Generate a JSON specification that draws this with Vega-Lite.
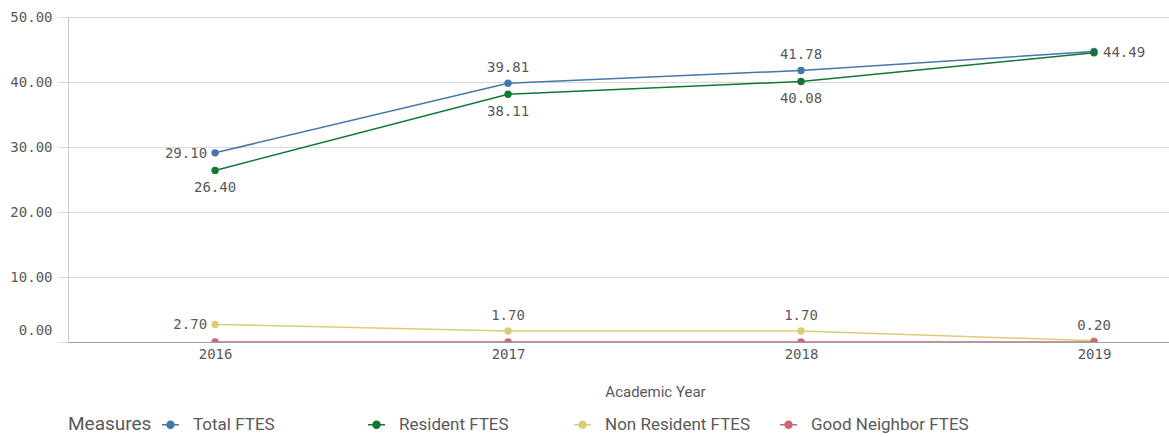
{
  "$schema": "https://vega.github.io/schema/vega-lite/v6.json",
  "width": 1101,
  "height": 325,
  "autosize": "none",
  "padding": {"left": 68, "top": 17, "right": 0, "bottom": 95},
  "background": "white",
  "config": {
    "view": {"stroke": null},
    "font": "Roboto"
  },
  "data": {
    "values": [
      {"year": 2016, "measure": "Total FTES", "value": 29.10},
      {"year": 2017, "measure": "Total FTES", "value": 39.81},
      {"year": 2018, "measure": "Total FTES", "value": 41.78},
      {"year": 2019, "measure": "Total FTES", "value": 44.69},
      {"year": 2016, "measure": "Resident FTES", "value": 26.40},
      {"year": 2017, "measure": "Resident FTES", "value": 38.11},
      {"year": 2018, "measure": "Resident FTES", "value": 40.08},
      {"year": 2019, "measure": "Resident FTES", "value": 44.49},
      {"year": 2016, "measure": "Non Resident FTES", "value": 2.70},
      {"year": 2017, "measure": "Non Resident FTES", "value": 1.70},
      {"year": 2018, "measure": "Non Resident FTES", "value": 1.70},
      {"year": 2019, "measure": "Non Resident FTES", "value": 0.20},
      {"year": 2016, "measure": "Good Neighbor FTES", "value": 0},
      {"year": 2017, "measure": "Good Neighbor FTES", "value": 0},
      {"year": 2018, "measure": "Good Neighbor FTES", "value": 0},
      {"year": 2019, "measure": "Good Neighbor FTES", "value": 0}
    ]
  },
  "encoding": {
    "x": {
      "field": "year",
      "type": "quantitative",
      "scale": {"domain": [2015.498, 2019.256], "nice": false, "zero": false},
      "axis": {
        "title": "Academic Year",
        "values": [2016, 2017, 2018, 2019],
        "format": "d",
        "grid": false,
        "ticks": false,
        "domainColor": "#9e9e9e",
        "domainWidth": 1,
        "labelFont": "DejaVu Sans Mono",
        "labelFontSize": 14,
        "labelColor": "#595959",
        "labelPadding": 5,
        "titleFont": "Roboto",
        "titleFontSize": 15,
        "titleFontWeight": "normal",
        "titleColor": "#595959",
        "titleX": 587,
        "titleY": 49,
        "titleBaseline": "middle",
        "titleAnchor": "middle"
      }
    },
    "y": {
      "field": "value",
      "type": "quantitative",
      "scale": {"domain": [0, 50], "nice": false},
      "axis": {
        "title": null,
        "values": [0, 10, 20, 30, 40, 50],
        "format": ".2f",
        "grid": true,
        "gridColor": "#d9d9d9",
        "gridWidth": 1,
        "ticks": true,
        "tickSize": 10,
        "tickColor": "#d9d9d9",
        "domainColor": "#cccccc",
        "labelFont": "DejaVu Sans Mono",
        "labelFontSize": 14,
        "labelColor": "#595959",
        "labelPadding": 6,
        "labelBaseline": {"expr": "datum.value === 0 ? 'bottom' : 'middle'"},
        "labelOffset": {"expr": "datum.value === 0 ? -5 : 0"}
      }
    },
    "color": {
      "field": "measure",
      "type": "nominal",
      "sort": ["Total FTES", "Resident FTES", "Non Resident FTES", "Good Neighbor FTES"],
      "scale": {
        "domain": ["Total FTES", "Resident FTES", "Non Resident FTES", "Good Neighbor FTES"],
        "range": ["#4477aa", "#117733", "#ddcc77", "#cc6677"]
      },
      "legend": {
        "title": "Measures",
        "orient": "none",
        "legendX": 0,
        "legendY": 399,
        "direction": "horizontal",
        "columns": 4,
        "gridAlign": "all",
        "columnPadding": 17,
        "titleOrient": "left",
        "titleFont": "Roboto",
        "titleFontSize": 19,
        "titleFontWeight": "normal",
        "titleColor": "#595959",
        "titlePadding": 10,
        "labelFont": "Roboto",
        "labelFontSize": 17,
        "labelColor": "#595959",
        "labelOffset": 14,
        "labelLimit": 300,
        "symbolType": "M-1,-0.1L1,-0.1L1,0.1L-1,0.1Z M0,-0.5A0.5,0.5,0,1,1,0,0.5A0.5,0.5,0,1,1,0,-0.5Z",
        "symbolSize": 289,
        "symbolStrokeWidth": 0,
        "symbolOpacity": 1
      }
    }
  },
  "layer": [
    {
      "mark": {"type": "line", "strokeWidth": 1.5, "clip": true}
    },
    {
      "mark": {"type": "point", "filled": true, "size": 55, "opacity": 1, "clip": true}
    },
    {
      "transform": [
        {"filter": "(datum.measure === 'Total FTES' && (datum.year === 2017 || datum.year === 2018)) || (datum.measure === 'Non Resident FTES' && datum.year > 2016)"}
      ],
      "mark": {"type": "text", "dy": -15, "font": "DejaVu Sans Mono", "fontSize": 14, "color": "#595959"},
      "encoding": {"text": {"field": "value", "type": "quantitative", "format": ".2f"}, "color": {"value": "#595959"}}
    },
    {
      "transform": [
        {"filter": "datum.year === 2016 && (datum.measure === 'Total FTES' || datum.measure === 'Non Resident FTES')"}
      ],
      "mark": {"type": "text", "align": "right", "dx": -8, "dy": 1, "font": "DejaVu Sans Mono", "fontSize": 14},
      "encoding": {"text": {"field": "value", "type": "quantitative", "format": ".2f"}, "color": {"value": "#595959"}}
    },
    {
      "transform": [
        {"filter": "datum.measure === 'Resident FTES' && datum.year < 2019"}
      ],
      "mark": {"type": "text", "dy": 18, "font": "DejaVu Sans Mono", "fontSize": 14},
      "encoding": {"text": {"field": "value", "type": "quantitative", "format": ".2f"}, "color": {"value": "#595959"}}
    },
    {
      "transform": [
        {"filter": "datum.measure === 'Resident FTES' && datum.year === 2019"}
      ],
      "mark": {"type": "text", "align": "left", "dx": 9, "font": "DejaVu Sans Mono", "fontSize": 14},
      "encoding": {"text": {"field": "value", "type": "quantitative", "format": ".2f"}, "color": {"value": "#595959"}}
    }
  ]
}
